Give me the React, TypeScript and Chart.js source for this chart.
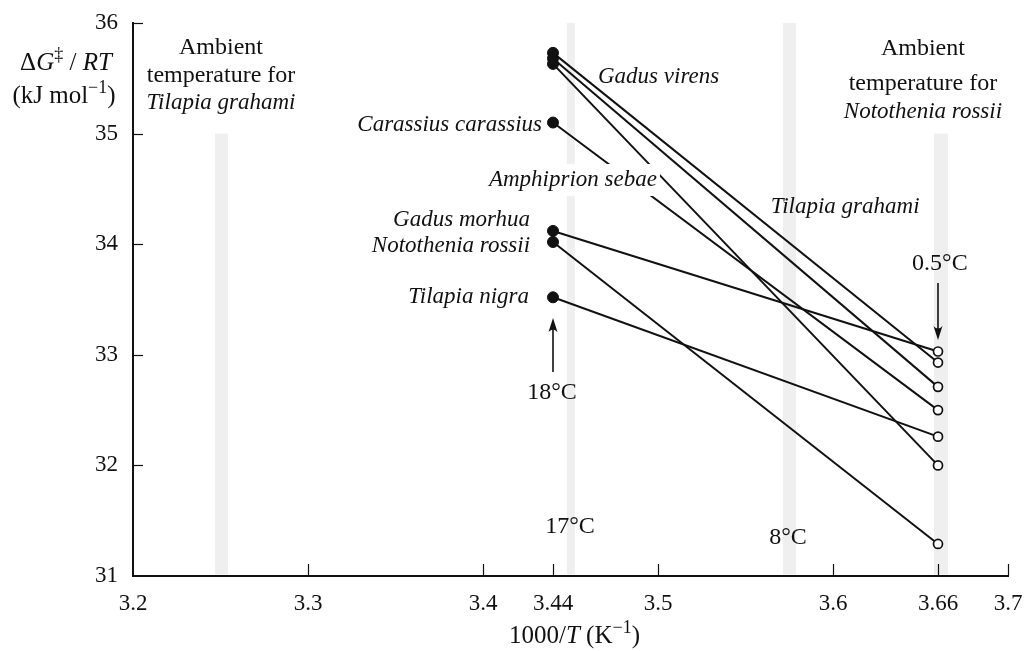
import React, { useEffect, useRef } from 'react';
import { Chart, registerables } from 'chart.js';

Chart.register(...registerables);

const SERIF = '"Liberation Serif", "Times New Roman", serif';

// Data
const speciesNames = [
  'Gadus virens',
  'Amphiprion sebae',
  'Tilapia grahami',
  'Carassius carassius',
  'Gadus morhua',
  'Notothenia rossii',
  'Tilapia nigra',
];
const invTemps = [3.44, 3.66]; // 1000/T at 18°C and 0.5°C
const energyAt18C = [35.73, 35.68, 35.63, 35.1, 34.12, 34.02, 33.52];
const energyAt05C = [32.93, 32.71, 32.0, 32.5, 33.03, 31.29, 32.26];
const xTickValues = [3.2, 3.3, 3.4, 3.44, 3.5, 3.6, 3.66, 3.7];
const yTickValues = [31, 32, 33, 34, 35, 36];
const bandCenters = [3.2506, 3.4502, 3.5751, 3.6617];
const bandTops = [35, 36, 36, 35];

// Styles / annotations
const bandWidthsPx = [13, 8, 13, 14];
type Lbl = { t: string; x: number; y: number; align: CanvasTextAlign; it?: boolean; bg?: boolean };
const labels: Lbl[] = [
  { t: 'Ambient', x: 3.2503, y: 35.72, align: 'center' },
  { t: 'temperature for', x: 3.2503, y: 35.466, align: 'center' },
  { t: 'Tilapia grahami', x: 3.2503, y: 35.226, align: 'center', it: true },
  { t: 'Ambient', x: 3.6514, y: 35.711, align: 'center' },
  { t: 'temperature for', x: 3.6514, y: 35.396, align: 'center' },
  { t: 'Notothenia rossii', x: 3.6514, y: 35.141, align: 'center', it: true },
  { t: 'Gadus virens', x: 3.4657, y: 35.458, align: 'left', it: true },
  { t: 'Carassius carassius', x: 3.4337, y: 35.024, align: 'right', it: true },
  { t: 'Amphiprion sebae', x: 3.4514, y: 34.526, align: 'center', it: true, bg: true },
  { t: 'Tilapia grahami', x: 3.6069, y: 34.282, align: 'center', it: true },
  { t: 'Gadus morhua', x: 3.4269, y: 34.165, align: 'right', it: true },
  { t: 'Notothenia rossii', x: 3.4269, y: 33.93, align: 'right', it: true },
  { t: 'Tilapia nigra', x: 3.4263, y: 33.468, align: 'right', it: true },
  { t: '18°C', x: 3.4394, y: 32.6, align: 'center' },
  { t: '0.5°C', x: 3.6611, y: 33.767, align: 'center' },
  { t: '17°C', x: 3.4497, y: 31.389, align: 'center' },
  { t: '8°C', x: 3.5743, y: 31.289, align: 'center' },
];
const arrows = [
  { x: 3.44, from: 32.844, to: 33.333 },
  { x: 3.66, from: 33.649, to: 33.134 },
];

type Seg = { t: string; i?: boolean; sup?: boolean };

function drawSegments(ctx: CanvasRenderingContext2D, segs: Seg[], cx: number, baseY: number, size: number) {
  const fontFor = (s: Seg) => `${s.i ? 'italic ' : ''}${s.sup ? Math.round(size * 0.7) : size}px ${SERIF}`;
  let total = 0;
  const widths = segs.map((s) => {
    ctx.font = fontFor(s);
    const w = ctx.measureText(s.t).width;
    total += w;
    return w;
  });
  let x = cx - total / 2;
  ctx.textAlign = 'left';
  ctx.textBaseline = 'alphabetic';
  segs.forEach((s, k) => {
    ctx.font = fontFor(s);
    ctx.fillText(s.t, x, s.sup ? baseY - size * 0.4 : baseY);
    x += widths[k];
  });
}

const decorPlugin = {
  id: 'decor',
  beforeDatasetsDraw(chart: any) {
    const { ctx, chartArea, scales } = chart;
    const { x, y } = scales;
    ctx.save();
    ctx.fillStyle = '#efefef';
    bandCenters.forEach((c, i) => {
      const px = x.getPixelForValue(c);
      const w = bandWidthsPx[i];
      const top = y.getPixelForValue(bandTops[i]);
      ctx.fillRect(px - w / 2, top, w, chartArea.bottom - 1.5 - top);
    });
    ctx.restore();
  },
  afterDatasetsDraw(chart: any) {
    const { ctx, scales } = chart;
    const { x, y } = scales;
    ctx.save();
    ctx.fillStyle = '#111';
    ctx.strokeStyle = '#111';
    labels.forEach((l) => {
      const size = l.it ? 23 : 24;
      ctx.font = `${l.it ? 'italic ' : ''}${size}px ${SERIF}`;
      ctx.textAlign = l.align;
      ctx.textBaseline = 'alphabetic';
      const px = x.getPixelForValue(l.x);
      const py = y.getPixelForValue(l.y);
      if (l.bg) {
        const w = ctx.measureText(l.t).width;
        let left = px - w / 2;
        if (l.align === 'left') left = px;
        if (l.align === 'right') left = px - w;
        ctx.fillStyle = '#ffffff';
        ctx.fillRect(left - 3, py - 22, w + 6, 32);
        ctx.fillStyle = '#111';
      }
      ctx.fillText(l.t, px, py);
    });
    ctx.lineWidth = 1.6;
    arrows.forEach((a) => {
      const px = x.getPixelForValue(a.x);
      const y0 = y.getPixelForValue(a.from);
      const y1 = y.getPixelForValue(a.to);
      const dir = y1 < y0 ? -1 : 1;
      ctx.beginPath();
      ctx.moveTo(px, y0);
      ctx.lineTo(px, y1 - dir * 6);
      ctx.stroke();
      ctx.beginPath();
      ctx.moveTo(px, y1);
      ctx.lineTo(px - 4.5, y1 - dir * 14);
      ctx.quadraticCurveTo(px, y1 - dir * 9, px + 4.5, y1 - dir * 14);
      ctx.closePath();
      ctx.fill();
    });
    ctx.restore();
  },
  afterDraw(chart: any) {
    const { ctx, chartArea, scales } = chart;
    const { x, y } = scales;
    ctx.save();
    ctx.strokeStyle = '#111';
    ctx.lineWidth = 1.2;
    xTickValues.forEach((v) => {
      if (v === 3.2) return;
      const px = Math.round(x.getPixelForValue(v)) + 0.5;
      ctx.beginPath();
      ctx.moveTo(px, chartArea.bottom);
      ctx.lineTo(px, chartArea.bottom - 12);
      ctx.stroke();
    });
    yTickValues.forEach((v) => {
      if (v === 31) return;
      const py = Math.round(y.getPixelForValue(v)) + 0.5;
      ctx.beginPath();
      ctx.moveTo(chartArea.left, py);
      ctx.lineTo(chartArea.left + 10, py);
      ctx.stroke();
    });
    ctx.fillStyle = '#111';
    drawSegments(
      ctx,
      [{ t: 'Δ' }, { t: 'G', i: true }, { t: '‡', sup: true }, { t: ' / ' }, { t: 'RT', i: true }],
      66,
      chartArea.top + 47,
      25
    );
    drawSegments(ctx, [{ t: '(kJ mol' }, { t: '−1', sup: true }, { t: ')' }], 64, chartArea.top + 80, 25);
    drawSegments(
      ctx,
      [{ t: '1000/' }, { t: 'T', i: true }, { t: ' (K' }, { t: '−1', sup: true }, { t: ')' }],
      (chartArea.left + chartArea.right) / 2 + 4,
      chartArea.bottom + 67,
      25
    );
    ctx.restore();
  },
};

export default function App() {
  const ref = useRef<HTMLCanvasElement | null>(null);
  useEffect(() => {
    if (!ref.current) return;
    const chart = new Chart(ref.current, {
      type: 'line',
      data: {
        datasets: speciesNames.map((name, i) => ({
          label: name,
          data: [
            { x: invTemps[0], y: energyAt18C[i] },
            { x: invTemps[1], y: energyAt05C[i] },
          ],
          borderColor: '#111',
          borderWidth: 2,
          pointRadius: [5.5, 4.5],
          pointBackgroundColor: ['#111', '#ffffff'],
          pointBorderColor: '#111',
          pointBorderWidth: [1, 1.7],
          fill: false,
          tension: 0,
        })),
      },
      options: {
        animation: false,
        responsive: false,
        events: [],
        layout: { padding: { left: 0, right: 25, top: 23, bottom: 0 } },
        plugins: { legend: { display: false }, tooltip: { enabled: false } },
        scales: {
          x: {
            type: 'linear',
            min: 3.2,
            max: 3.7,
            afterBuildTicks: (s: any) => {
              s.ticks = xTickValues.map((v) => ({ value: v }));
            },
            afterFit: (s: any) => {
              s.height = 75;
              s.paddingLeft = 0;
              s.paddingRight = 0;
            },
            grid: { display: false, drawTicks: false },
            border: { display: true, color: '#111', width: 2 },
            ticks: {
              font: { family: SERIF, size: 23 },
              color: '#111',
              padding: 14,
              autoSkip: false,
              maxRotation: 0,
              callback: (v: any) => String(v),
            },
          },
          y: {
            type: 'linear',
            min: 31,
            max: 36,
            afterBuildTicks: (s: any) => {
              s.ticks = yTickValues.map((v) => ({ value: v }));
            },
            afterFit: (s: any) => {
              s.width = 133;
              s.paddingTop = 0;
              s.paddingBottom = 0;
            },
            grid: { display: false, drawTicks: false },
            border: { display: true, color: '#111', width: 2 },
            ticks: {
              font: { family: SERIF, size: 23 },
              color: '#111',
              padding: 15,
              callback: (v: any) => String(v),
            },
          },
        },
      },
      plugins: [decorPlugin],
    });
    return () => chart.destroy();
  }, []);
  return (
    <div style={{ position: 'fixed', left: 0, top: 0, width: 1033, height: 651, background: '#fff' }}>
      <canvas ref={ref} width={1033} height={651} style={{ display: 'block' }} />
    </div>
  );
}
